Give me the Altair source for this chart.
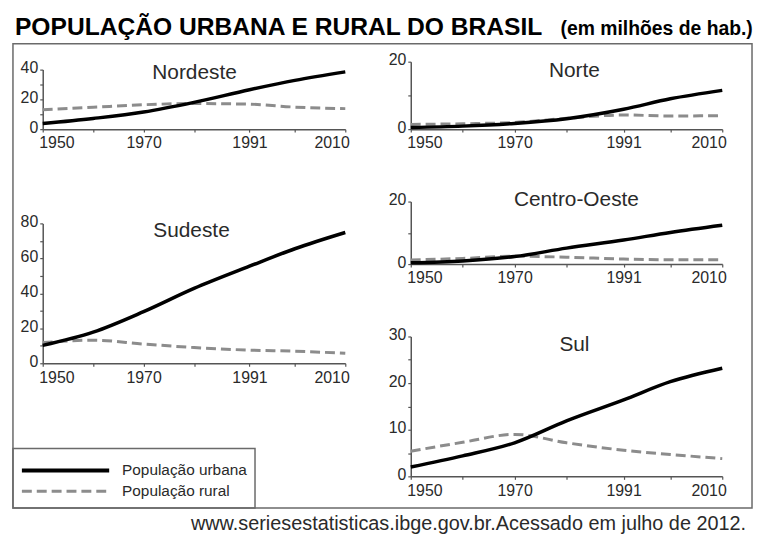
import altair as alt
import pandas as pd

FONT = "Liberation Sans"

years = [1950, 1960, 1970, 1980, 1991, 2000, 2010]
x_ticks = [1950, 1960, 1970, 1980, 1991, 2000, 2010]
x_labels = [1950, 1970, 1991, 2010]

nordeste_urbana = [3.8, 7.2, 11.5, 18.0, 26.5, 32.8, 38.5]
nordeste_rural = [13.0, 14.7, 16.4, 17.2, 16.8, 14.8, 13.8]
norte_urbana = [0.5, 0.9, 1.7, 3.1, 5.9, 9.0, 11.5]
norte_rural = [1.4, 1.6, 2.0, 3.2, 4.2, 3.9, 4.0]
sudeste_urbana = [10.2, 17.8, 29.5, 42.8, 55.5, 65.5, 74.8]
sudeste_rural = [11.8, 13.2, 11.0, 9.0, 7.5, 6.9, 5.7]
centro_urbana = [0.4, 1.0, 2.4, 5.1, 7.7, 10.1, 12.4]
centro_rural = [1.3, 1.8, 2.5, 2.2, 1.6, 1.4, 1.4]
sul_urbana = [2.0, 4.4, 7.2, 11.9, 16.4, 20.3, 23.2]
sul_rural = [5.4, 7.3, 9.0, 7.2, 5.6, 4.7, 3.8]

titulo = "POPULAÇÃO URBANA E RURAL DO BRASIL"
subtitulo = "(em milhões de hab.)"
fonte = "www.seriesestatisticas.ibge.gov.br.Acessado em julho de 2012."
legenda = ["População urbana", "População rural"]

URB_COLOR = "black"
RUR_COLOR = "#8c8c8c"
TXT = "#2a2a2a"
FRAME = "#6a6a6a"
DASH = [10, 5]


def blank():
    return alt.InlineData(values=[{}])


def deco_rect(x1, y1, x2, y2, **kw):
    return alt.Chart(blank()).mark_rect(**kw).encode(
        x=alt.value(x1), x2=alt.value(x2), y=alt.value(y1), y2=alt.value(y2))


def deco_rule(x1, x2, y, **kw):
    return alt.Chart(blank()).mark_rule(**kw).encode(
        x=alt.value(x1), x2=alt.value(x2), y=alt.value(y))


def deco_text(txt, x, y, **kw):
    return alt.Chart(blank()).mark_text(text=txt, **kw).encode(
        x=alt.value(x), y=alt.value(y))


def panel(name, urb, rur, ymax, yticks, ystep, w, h, tx, ty, yrange=None, extra=()):
    df = pd.DataFrame({
        "ano": years + years,
        "valor": urb + rur,
        "tipo": ["Urbana"] * len(years) + ["Rural"] * len(years),
    })
    x = alt.X("ano:Q",
              scale=alt.Scale(domain=[1950, 2010], nice=False, zero=False),
              axis=alt.Axis(values=x_ticks, format="d", title=None,
                            labelFlush=True, labelFlushOffset=4, labelPadding=3,
                            labelExpr=f"indexof({x_labels}, datum.value) >= 0 ? datum.label : ''"))
    if yrange is not None:
        ys = alt.Scale(domain=[0, ymax], nice=False, range=yrange)
    else:
        ys = alt.Scale(domain=[0, ymax], nice=False)
    y = alt.Y("valor:Q", scale=ys,
              axis=alt.Axis(values=yticks, title=None, labelOffset=-2,
                            labelExpr=f"datum.value % {ystep} == 0 ? datum.label : ''"))
    base = alt.Chart(df)
    rur_line = base.transform_filter("datum.tipo == 'Rural'").mark_line(
        color=RUR_COLOR, strokeWidth=3, strokeDash=DASH, interpolate="monotone"
    ).encode(x=x, y=y)
    urb_line = base.transform_filter("datum.tipo == 'Urbana'").mark_line(
        color=URB_COLOR, strokeWidth=3.5, interpolate="monotone"
    ).encode(x=x, y=y)
    title = deco_text(name, tx, ty, fontSize=21, color=TXT, align="center",
                      baseline="alphabetic", font=FONT)
    return alt.layer(*extra, rur_line, urb_line, title).properties(width=w, height=h)


# decorations drawn relative to the Nordeste plot origin (page 43, 60)
decor = [
    deco_rect(-35, -52, 717, 476, fill="white", opacity=0),
    deco_rect(-30, -18, 715, 450, fillOpacity=0, stroke=FRAME, strokeWidth=1.5),
    deco_rect(-30, 390, 214, 450, fillOpacity=0, stroke=FRAME, strokeWidth=1.5),
    deco_rule(-21, 67, 412, color=URB_COLOR, strokeWidth=4),
    deco_rule(-21, 67, 433, color=RUR_COLOR, strokeWidth=3, strokeDash=DASH),
    deco_text(legenda[0], 80, 412, fontSize=15.5, color=TXT, align="left",
              baseline="middle", font=FONT),
    deco_text(legenda[1], 80, 433, fontSize=15.5, color=TXT, align="left",
              baseline="middle", font=FONT),
    deco_text(titulo, -28, -27, fontSize=24.8, fontWeight="bold", color="black",
              align="left", baseline="alphabetic", font=FONT),
    deco_text(subtitulo, 522, -27, fontSize=19.5, fontWeight="bold", color="black",
              align="left", baseline="alphabetic", font=FONT),
    deco_text(fonte, 709, 472, fontSize=20, color=TXT, align="right",
              baseline="alphabetic", font=FONT),
]

nordeste = panel("Nordeste", nordeste_urbana, nordeste_rural, 40, [0, 10, 20, 30, 40], 20,
                 305, 68, 153, 17, yrange=[68, 8], extra=decor)
sudeste = panel("Sudeste", sudeste_urbana, sudeste_rural, 80,
                [0, 10, 20, 30, 40, 50, 60, 70, 80], 20, 305, 141, 150, 14)
norte = panel("Norte", norte_urbana, norte_rural, 20, [0, 10, 20], 20, 314, 68, 165, 15)
centro = panel("Centro-Oeste", centro_urbana, centro_rural, 20, [0, 10, 20], 20,
               314, 63, 167, 4)
sul = panel("Sul", sul_urbana, sul_rural, 30, [0, 5, 10, 15, 20, 25, 30], 10,
            314, 141, 165, 15)

left = alt.vconcat(nordeste, sudeste, spacing=95, bounds="flush")
right = alt.vconcat(norte, centro, sul, spacing=73, bounds="flush")

chart = alt.hconcat(left, right, spacing=371, bounds="flush", padding=0).configure(
    font=FONT
).configure_view(strokeWidth=0).configure_axis(
    domainColor="#555", domainWidth=1.5, tickColor="#555", tickSize=3, tickWidth=1.2,
    labelColor=TXT, labelFontSize=16, labelFont=FONT, grid=False,
    labelPadding=2, labelOverlap=False
)

chart.save("out.html", embed_options={"renderer": "svg", "actions": False})
